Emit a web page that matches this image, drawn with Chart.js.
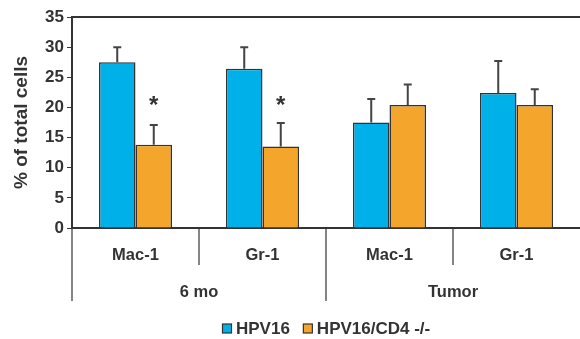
<!DOCTYPE html>
<html>
<head>
<meta charset="utf-8">
<script src="https://cdn.jsdelivr.net/npm/chart.js@4/dist/chart.umd.min.js"></script>
<style>
  html, body { margin: 0; padding: 0; background: #fff; }
  #wrap { width: 580px; height: 339px; }
</style>
</head>
<body>
<div id="wrap"><canvas id="myChart"></canvas></div>
<script>
// data
var cells = ["Mac-1", "Gr-1", "Mac-1", "Gr-1"];
var groups = ["6 mo", "Tumor"];
var hpv16 = [27.5, 26.4, 17.5, 22.4];
var hpv16Err = [2.5, 3.6, 3.9, 5.3];
var cd4ko = [13.8, 13.5, 20.4, 20.4];
var cd4koErr = [3.3, 3.9, 3.4, 2.6];
var starAt = [21, 21, null, null];   // "*" over HPV16/CD4 -/- bars
var yTicks = [0, 5, 10, 15, 20, 25, 30, 35];

var ink = "#333333";
var fam = "'Liberation Sans', Arial, sans-serif";

// error bars, asterisks, top line, two-level category axis and legend
var extras = {
  id: "extras",
  afterDatasetsDraw: function(chart) {
    var ctx = chart.ctx, y = chart.scales.y, x = chart.scales.x, area = chart.chartArea;
    var errs = [hpv16Err, cd4koErr], vals = [hpv16, cd4ko];
    ctx.save();
    ctx.strokeStyle = "#444";
    ctx.lineWidth = 2;
    for (var d = 0; d < 2; d++) {
      var meta = chart.getDatasetMeta(d);
      meta.data.forEach(function(bar, i) {
        var yTop = y.getPixelForValue(vals[d][i] + errs[d][i]);
        var yBase = y.getPixelForValue(vals[d][i]);
        ctx.beginPath();
        ctx.moveTo(bar.x, yBase);
        ctx.lineTo(bar.x, yTop);
        ctx.moveTo(bar.x - 4, yTop);
        ctx.lineTo(bar.x + 4, yTop);
        ctx.stroke();
      });
    }
    // asterisks
    ctx.fillStyle = ink;
    ctx.font = "bold 24px " + fam;
    ctx.textAlign = "center";
    ctx.textBaseline = "middle";
    var m1 = chart.getDatasetMeta(1);
    starAt.forEach(function(v, i) {
      if (v == null) return;
      ctx.fillText("*", m1.data[i].x, y.getPixelForValue(v) + 5);
    });
    // top border line
    ctx.strokeStyle = ink;
    ctx.lineWidth = 2;
    ctx.beginPath();
    ctx.moveTo(area.left, area.top);
    ctx.lineTo(area.right, area.top);
    ctx.stroke();
    // category separators
    var bottom = area.bottom;
    var edges = [area.left];
    for (var i = 0; i < cells.length - 1; i++) {
      edges.push((x.getPixelForValue(i) + x.getPixelForValue(i + 1)) / 2);
    }
    ctx.lineWidth = 1.2;
    edges.forEach(function(ex, i) {
      var len = (i % 2 === 0) ? 73 : 37;
      ctx.beginPath();
      ctx.moveTo(ex, bottom);
      ctx.lineTo(ex, bottom + len);
      ctx.stroke();
    });
    // labels
    ctx.font = "bold 16.5px " + fam;
    ctx.fillStyle = ink;
    cells.forEach(function(c, i) {
      ctx.fillText(c, x.getPixelForValue(i), bottom + 27);
    });
    groups.forEach(function(g, k) {
      var cx = (x.getPixelForValue(2 * k) + x.getPixelForValue(2 * k + 1)) / 2;
      ctx.fillText(g, cx, bottom + 64);
    });
    // legend
    ctx.font = "bold 17px " + fam;
    ctx.textAlign = "left";
    var lx = 222, ly = 328.5;
    chart.data.datasets.forEach(function(ds) {
      ctx.fillStyle = ds.backgroundColor;
      ctx.fillRect(lx + 0.5, ly - 4.5, 9, 9);
      ctx.strokeStyle = ink;
      ctx.lineWidth = 1.2;
      ctx.strokeRect(lx + 0.5, ly - 4.5, 9, 9);
      ctx.fillStyle = ink;
      ctx.fillText(ds.label, lx + 14, ly + 1);
      lx += 14 + ctx.measureText(ds.label).width + 13;
    });
    ctx.restore();
  }
};

new Chart("myChart", {
  type: "bar",
  data: {
    labels: cells,
    datasets: [{
      label: "HPV16",
      data: hpv16,
      backgroundColor: "#00b1e9",
      borderColor: ink,
      borderWidth: 1.5
    }, {
      label: "HPV16/CD4 -/-",
      data: cd4ko,
      backgroundColor: "#f4a52b",
      borderColor: ink,
      borderWidth: 1.5
    }]
  },
  options: {
    responsive: true,
    maintainAspectRatio: false,
    animation: false,
    layout: { padding: { top: 17, right: 0, left: 0, bottom: 0 } },
    categoryPercentage: 0.575,
    barPercentage: 1,
    plugins: {
      legend: { display: false },
      tooltip: { enabled: false }
    },
    scales: {
      x: {
        grid: { display: false, drawTicks: false },
        border: { color: ink, width: 2 },
        ticks: { display: false },
        afterFit: function(s) { s.height = 111; }
      },
      y: {
        min: 0,
        max: 35,
        afterBuildTicks: function(s) { s.ticks = yTicks.map(function(v) { return { value: v }; }); },
        grid: { drawOnChartArea: false, tickLength: 5, color: ink, tickWidth: 1 },
        border: { color: ink, width: 2 },
        ticks: {
          color: ink,
          padding: 3,
          font: { family: fam, size: 17, weight: "bold" }
        },
        title: {
          display: true,
          text: "% of total cells",
          color: ink,
          padding: { top: 10, bottom: 0 },
          font: { family: fam, size: 19, weight: "bold" }
        },
        afterFit: function(s) { s.width = 72; }
      }
    }
  },
  plugins: [extras]
});
</script>
</body>
</html>
